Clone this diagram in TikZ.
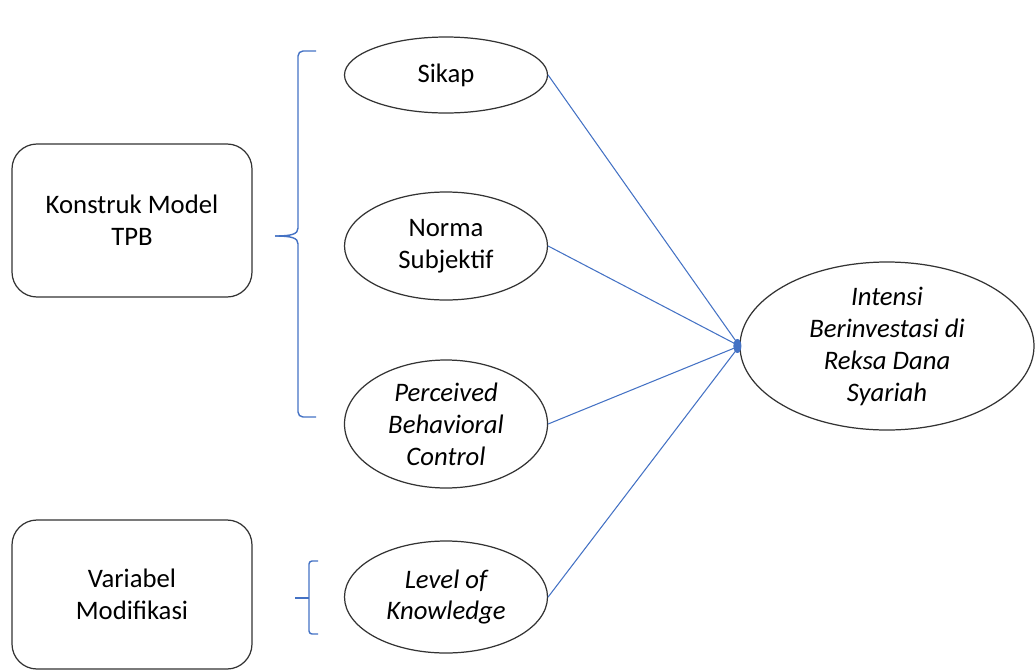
\documentclass[tikz,border=0pt]{standalone}
\usepackage{fontspec}
\setmainfont{Carlito}
\usetikzlibrary{shapes,arrows}

\definecolor{tpbblue}{RGB}{68,114,196}
\tikzset{
  konstruk/.style={draw=black!80, line width=0.7pt, rounded corners=0.5cm,
    minimum width=4.8cm, minimum height=3.06cm, align=center,
    font=\fontsize{15.2}{18.2}\selectfont},
  variabel/.style={ellipse, draw=black!80, line width=0.7pt, inner sep=0pt,
    minimum width=4.06cm, align=center, font=\fontsize{15.2}{18.2}\selectfont},
  jalur/.style={tpbblue, line width=0.6pt},
  kurung/.style={tpbblue, line width=0.8pt}
}

\begin{document}
\begin{tikzpicture}
\useasboundingbox (0,0) rectangle (20.7,-13.42);

\node (TPB) [konstruk] at (2.64,-4.41) {Konstruk Model\\TPB};
\node (Modif) [konstruk, minimum height=2.98cm] at (2.64,-11.89) {Variabel\\Modifikasi};

\node (Sikap) [variabel, minimum height=1.52cm] at (8.92,-1.50) {Sikap};
\node (Norma) [variabel, minimum height=2.16cm, node distance=3.42cm, below of=Sikap] {Norma\\Subjektif};
\node (PBC) [variabel, minimum height=2.56cm, node distance=3.56cm, below of=Norma] {\itshape Perceived\\\itshape Behavioral\\\itshape Control};
\node (LoK) [variabel, minimum height=2.24cm, node distance=3.46cm, below of=PBC] {\itshape Level of\\\itshape Knowledge};

\node (Intensi) [variabel, minimum width=5.88cm, minimum height=3.36cm] at (17.74,-6.92)
  {\itshape Intensi\\\itshape Berinvestasi di\\\itshape Reksa Dana\\\itshape Syariah};

% garis ke intensi
\draw [jalur] (Sikap.east) -- (Intensi.west);
\draw [jalur] (Norma.east) -- (Intensi.west);
\draw [jalur] (PBC.east) -- (Intensi.west);
\draw [jalur] (LoK.east) -- (Intensi.west);
\fill [tpbblue] ([xshift=-0.04cm]Intensi.west) ellipse (0.08 and 0.14);

% kurung kurawal
\draw [kurung] (6.32,-1.02) -- (6.06,-1.02) to[out=180,in=90] (5.96,-1.12) -- (5.96,-4.56)
  .. controls (5.96,-4.68) and (5.84,-4.72) .. (5.50,-4.72);
\draw [kurung] (5.50,-4.72) .. controls (5.84,-4.72) and (5.96,-4.76) .. (5.96,-4.88)
  -- (5.96,-8.24) to[out=-90,in=180] (6.06,-8.34) -- (6.32,-8.34);

\draw [kurung] (6.36,-11.22) -- (6.24,-11.22) to[out=180,in=90] (6.18,-11.28) -- (6.18,-12.62)
  to[out=-90,in=180] (6.24,-12.68) -- (6.36,-12.68);
\draw [kurung] (5.90,-11.96) -- (6.18,-11.96);

\end{tikzpicture}
\end{document}
